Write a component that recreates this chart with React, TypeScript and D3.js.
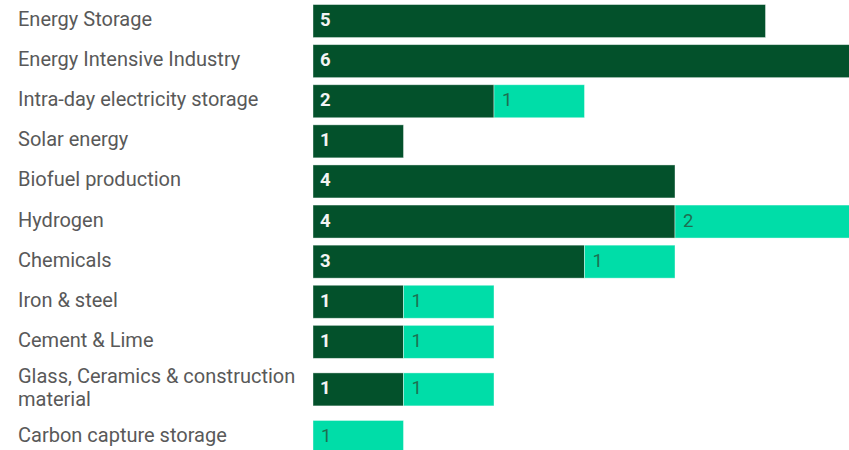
import React from "react";
import * as d3 from "d3";

const categories = [
  "Energy Storage",
  "Energy Intensive Industry",
  "Intra-day electricity storage",
  "Solar energy",
  "Biofuel production",
  "Hydrogen",
  "Chemicals",
  "Iron & steel",
  "Cement & Lime",
  "Glass, Ceramics & construction material",
  "Carbon capture storage",
];
const darkValues = [5, 6, 2, 1, 4, 4, 3, 1, 1, 1, 0];
const lightValues = [0, 0, 1, 0, 0, 2, 1, 1, 1, 1, 1];
const labelLines: string[][] = [
  ["Energy Storage"],
  ["Energy Intensive Industry"],
  ["Intra-day electricity storage"],
  ["Solar energy"],
  ["Biofuel production"],
  ["Hydrogen"],
  ["Chemicals"],
  ["Iron & steel"],
  ["Cement & Lime"],
  ["Glass, Ceramics & construction", "material"],
  ["Carbon capture storage"],
];

const W = 849;
const H = 450;
const DARK = "#03512B";
const LIGHT = "#00DDA8";
const FONT = "Roboto, sans-serif";

export default function App() {
  const x = d3.scaleLinear().domain([0, 6]).range([313, 313 + 6 * 90.5]);
  const barH = 33;
  const rows: { top: number; h: number }[] = [];
  let cur = 1.0;
  labelLines.forEach((l) => {
    const h = l.length > 1 ? 55 : 40.1;
    rows.push({ top: cur, h });
    cur += h;
  });

  return (
    <svg
      width={W}
      height={H}
      style={{ position: "absolute", left: 0, top: 0, display: "block" }}
      fontFamily={FONT}
    >
      <rect x={0} y={0} width={W} height={H} fill="#fff" />
      {categories.map((c, i) => {
        const r = rows[i];
        const cy = r.top + r.h / 2;
        const y0 = cy - barH / 2;
        const d = darkValues[i];
        const l = lightValues[i];
        const lines = labelLines[i];
        const lh = 23.5;
        const firstY = cy - ((lines.length - 1) * lh) / 2 - 2;
        return (
          <g key={c}>
            <text fontSize={20} fill="#595959" x={18}>
              {lines.map((t, j) => (
                <tspan key={j} x={18} y={firstY + j * lh} dominantBaseline="central">
                  {t}
                </tspan>
              ))}
            </text>
            {d > 0 && (
              <rect
                x={x(0)}
                y={y0}
                width={x(d) - x(0)}
                height={barH}
                fill={DARK}
                stroke="#fff"
                strokeWidth={0.8}
                strokeOpacity={0.5}
              />
            )}
            {l > 0 && (
              <rect
                x={x(d)}
                y={y0}
                width={x(d + l) - x(d)}
                height={barH}
                fill={LIGHT}
                stroke="#fff"
                strokeWidth={0.8}
                strokeOpacity={0.5}
              />
            )}
            {d > 0 && (
              <text
                x={x(0) + 7}
                y={cy - 1}
                dominantBaseline="central"
                fontSize={18.5}
                fontWeight="bold"
                fill="#f4f4f4"
              >
                {d}
              </text>
            )}
            {l > 0 && (
              <text
                x={x(d) + 8}
                y={cy - 1}
                dominantBaseline="central"
                fontSize={18.5}
                fill="#1f6e50"
              >
                {l}
              </text>
            )}
          </g>
        );
      })}
    </svg>
  );
}
